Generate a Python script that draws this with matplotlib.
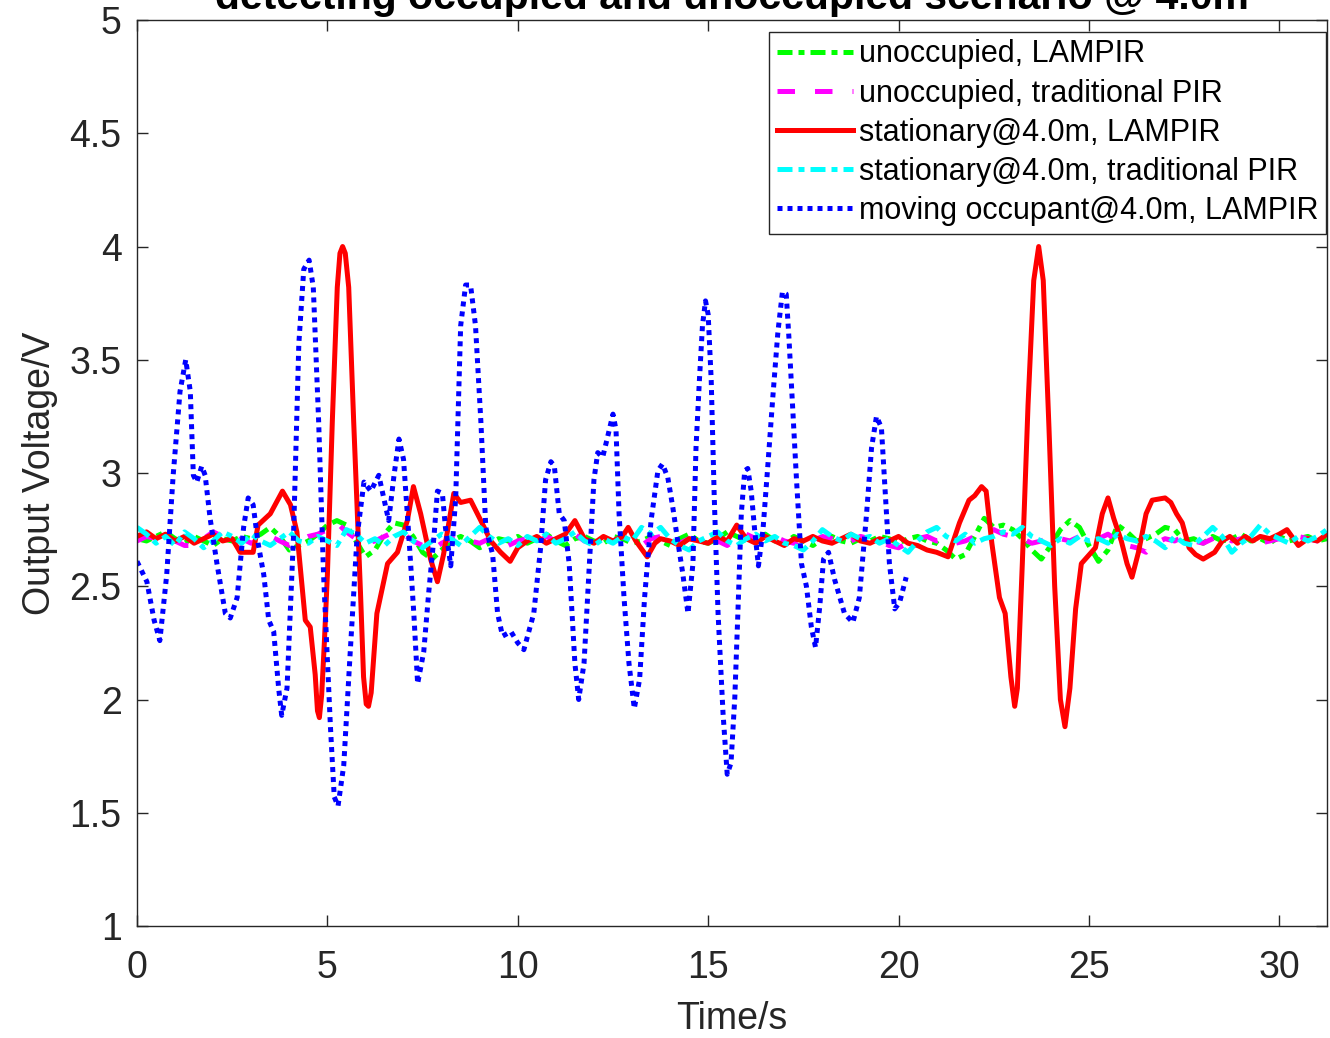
import numpy as np
import matplotlib
matplotlib.use("Agg")
import matplotlib.pyplot as plt

plt.rcParams['font.family'] = ['Liberation Sans', 'DejaVu Sans']

# ======================
# data
# ======================
DT = 0.25  # sample step for the flat (noise) traces, seconds

# unoccupied, LAMPIR  (4 samples per second, one row per second)
green_v = [
    2.71, 2.70, 2.72, 2.74,   # 0
    2.71, 2.69, 2.72, 2.70,   # 1
    2.68, 2.71, 2.70, 2.72,   # 2
    2.71, 2.73, 2.76, 2.72,   # 3
    2.66, 2.68, 2.70, 2.73,   # 4
    2.77, 2.79, 2.77, 2.70,   # 5
    2.63, 2.66, 2.73, 2.78,   # 6
    2.77, 2.72, 2.65, 2.62,   # 7
    2.66, 2.70, 2.72, 2.70,   # 8
    2.67, 2.69, 2.71, 2.70,   # 9
    2.72, 2.69, 2.71, 2.73,   # 10
    2.70, 2.68, 2.71, 2.72,   # 11
    2.70, 2.69, 2.72, 2.71,   # 12
    2.69, 2.70, 2.72, 2.70,   # 13
    2.68, 2.71, 2.73, 2.70,   # 14
    2.69, 2.71, 2.74, 2.72,   # 15
    2.70, 2.71, 2.73, 2.70,   # 16
    2.69, 2.72, 2.70, 2.68,   # 17
    2.71, 2.72, 2.70, 2.69,   # 18
    2.71, 2.70, 2.72, 2.71,   # 19
    2.69, 2.71, 2.72, 2.70,   # 20
    2.69, 2.66, 2.62, 2.64,   # 21
    2.72, 2.80, 2.76, 2.77,   # 22
    2.75, 2.71, 2.66, 2.62,   # 23
    2.68, 2.75, 2.79, 2.76,   # 24
    2.68, 2.61, 2.66, 2.77,   # 25
    2.74, 2.70, 2.71, 2.73,   # 26
    2.76, 2.75, 2.70, 2.71,   # 27
    2.69, 2.72, 2.70, 2.71,   # 28
    2.73, 2.70, 2.71, 2.69,   # 29
    2.72, 2.70, 2.71, 2.72,   # 30
    2.70, 2.71,               # 31
]

# unoccupied, traditional PIR
magenta_v = [
    2.70, 2.72, 2.71, 2.69,   # 0
    2.70, 2.68, 2.68, 2.71,   # 1
    2.74, 2.72, 2.70, 2.71,   # 2
    2.69, 2.71, 2.72, 2.70,   # 3
    2.68, 2.70, 2.72, 2.73,   # 4
    2.75, 2.78, 2.74, 2.71,   # 5
    2.69, 2.70, 2.72, 2.74,   # 6
    2.73, 2.70, 2.68, 2.66,   # 7
    2.69, 2.71, 2.72, 2.70,   # 8
    2.69, 2.71, 2.70, 2.68,   # 9
    2.70, 2.71, 2.69, 2.72,   # 10
    2.70, 2.71, 2.73, 2.70,   # 11
    2.69, 2.71, 2.70, 2.72,   # 12
    2.70, 2.68, 2.71, 2.72,   # 13
    2.70, 2.69, 2.71, 2.70,   # 14
    2.72, 2.70, 2.68, 2.71,   # 15
    2.73, 2.71, 2.70, 2.72,   # 16
    2.70, 2.69, 2.71, 2.70,   # 17
    2.72, 2.71, 2.69, 2.70,   # 18
    2.72, 2.71, 2.70, 2.68,   # 19
    2.67, 2.69, 2.71, 2.72,   # 20
    2.70, 2.71, 2.69, 2.70,   # 21
    2.72, 2.74, 2.75, 2.73,   # 22
    2.72, 2.71, 2.69, 2.70,   # 23
    2.72, 2.71, 2.70, 2.72,   # 24
    2.70, 2.71, 2.73, 2.70,   # 25
    2.68, 2.67, 2.65, 2.69,   # 26
    2.71, 2.70, 2.72, 2.70,   # 27
    2.69, 2.71, 2.73, 2.70,   # 28
    2.71, 2.72, 2.69, 2.70,   # 29
    2.71, 2.70, 2.72, 2.71,   # 30
    2.70, 2.71,               # 31
]

# stationary@4.0m, traditional PIR
cyan_v = [
    2.76, 2.73, 2.69, 2.72,   # 0
    2.68, 2.74, 2.71, 2.67,   # 1
    2.70, 2.74, 2.72, 2.69,   # 2
    2.73, 2.70, 2.68, 2.71,   # 3
    2.74, 2.70, 2.69, 2.72,   # 4
    2.70, 2.68, 2.75, 2.73,   # 5
    2.69, 2.71, 2.68, 2.72,   # 6
    2.74, 2.70, 2.67, 2.70,   # 7
    2.73, 2.71, 2.68, 2.72,   # 8
    2.76, 2.72, 2.69, 2.71,   # 9
    2.68, 2.72, 2.70, 2.73,   # 10
    2.69, 2.71, 2.74, 2.70,   # 11
    2.68, 2.71, 2.69, 2.72,   # 12
    2.70, 2.76, 2.73, 2.76,   # 13
    2.71, 2.68, 2.66, 2.70,   # 14
    2.72, 2.74, 2.70, 2.68,   # 15
    2.71, 2.73, 2.70, 2.72,   # 16
    2.69, 2.68, 2.66, 2.70,   # 17
    2.75, 2.72, 2.70, 2.73,   # 18
    2.71, 2.72, 2.69, 2.71,   # 19
    2.68, 2.65, 2.70, 2.74,   # 20
    2.76, 2.72, 2.70, 2.73,   # 21
    2.69, 2.71, 2.72, 2.74,   # 22
    2.73, 2.76, 2.72, 2.70,   # 23
    2.68, 2.71, 2.69, 2.72,   # 24
    2.70, 2.71, 2.69, 2.73,   # 25
    2.71, 2.70, 2.72, 2.70,   # 26
    2.67, 2.72, 2.69, 2.68,   # 27
    2.72, 2.76, 2.72, 2.65,   # 28
    2.69, 2.72, 2.77, 2.73,   # 29
    2.71, 2.69, 2.72, 2.70,   # 30
    2.72, 2.75,               # 31
]

# stationary@4.0m, LAMPIR
red_t = [0.0, 0.25, 0.5, 0.75, 1.0, 1.25, 1.5, 1.75, 2.0, 2.25, 2.5, 2.71,
         3.05, 3.18, 3.5, 3.82, 4.03, 4.2, 4.42, 4.55, 4.68, 4.74, 4.79, 4.85,
         4.92, 5.0, 5.13, 5.26, 5.33, 5.4, 5.47, 5.56, 5.69, 5.87, 5.95, 6.02,
         6.08, 6.15, 6.3, 6.58, 6.84, 7.1, 7.26, 7.45, 7.71, 7.89, 8.05, 8.32,
         8.5, 8.76, 9.03, 9.29, 9.55, 9.8, 10.0,
         10.25, 10.5, 10.75, 11.0, 11.25, 11.5, 11.75, 12.0, 12.25, 12.5, 12.75,
         12.9, 13.1, 13.4, 13.6, 13.75, 14.0, 14.25, 14.5, 14.75, 15.0, 15.25,
         15.5, 15.75, 16.0, 16.25, 16.5, 16.75, 17.0, 17.25, 17.5, 17.75, 18.0,
         18.25, 18.5, 18.75, 19.0, 19.25, 19.5, 19.75, 20.0, 20.25, 20.5, 20.75,
         21.0, 21.3, 21.6, 21.85, 22.0, 22.18, 22.3, 22.45, 22.65, 22.8, 22.95,
         23.05, 23.12, 23.25, 23.4, 23.55, 23.68, 23.8, 23.95, 24.1, 24.25,
         24.37, 24.5, 24.65, 24.8, 25.17, 25.35, 25.5, 25.65, 25.85, 26.0,
         26.13, 26.3, 26.5, 26.66, 27.0, 27.15, 27.3, 27.45, 27.63, 27.8, 28.0,
         28.3, 28.5, 28.7, 28.9, 29.1, 29.3, 29.5, 29.75, 30.0, 30.2, 30.5,
         30.75, 31.0, 31.25]
red_v = [2.72, 2.74, 2.71, 2.73, 2.70, 2.72, 2.69, 2.71, 2.73, 2.70, 2.71, 2.65,
         2.65, 2.77, 2.82, 2.92, 2.86, 2.74, 2.35, 2.32, 2.11, 1.95, 1.92, 2.02,
         2.25, 2.55, 3.23, 3.82, 3.97, 4.00, 3.97, 3.82, 3.23, 2.47, 2.10, 1.98,
         1.97, 2.03, 2.38, 2.60, 2.65, 2.79, 2.94, 2.82, 2.62, 2.52, 2.64, 2.91,
         2.87, 2.88, 2.79, 2.70, 2.65, 2.61, 2.67,
         2.70, 2.72, 2.69, 2.71, 2.73, 2.79, 2.71, 2.69, 2.72, 2.70, 2.72,
         2.76, 2.70, 2.63, 2.69, 2.71, 2.70, 2.68, 2.71, 2.70, 2.69, 2.72,
         2.70, 2.77, 2.71, 2.69, 2.72, 2.70, 2.68, 2.71, 2.70, 2.72, 2.70,
         2.69, 2.71, 2.73, 2.70, 2.69, 2.71, 2.70, 2.72, 2.69, 2.68, 2.66,
         2.65, 2.63, 2.78, 2.88, 2.90, 2.94, 2.92, 2.69, 2.45, 2.38, 2.10,
         1.97, 2.05, 2.60, 3.30, 3.85, 4.00, 3.85, 3.20, 2.50, 2.00,
         1.88, 2.05, 2.40, 2.60, 2.67, 2.82, 2.89, 2.80, 2.70, 2.60,
         2.54, 2.65, 2.82, 2.88, 2.89, 2.87, 2.82, 2.78, 2.67, 2.64, 2.62,
         2.65, 2.70, 2.72, 2.69, 2.72, 2.70, 2.72, 2.71, 2.73, 2.75, 2.68,
         2.71, 2.70, 2.73]

# moving occupant@4.0m, LAMPIR
blue_t = [0.0, 0.26, 0.45, 0.6, 0.78, 0.95, 1.13, 1.28, 1.4, 1.48, 1.57, 1.7,
          1.79, 1.92, 2.1, 2.32, 2.45, 2.63, 2.8, 2.92, 3.05, 3.18, 3.33, 3.46,
          3.59, 3.72, 3.8, 3.94, 4.11, 4.25, 4.38, 4.52, 4.63, 4.77, 4.9, 5.08,
          5.18, 5.28, 5.43, 5.6, 5.78, 5.96, 6.14, 6.35, 6.48, 6.61, 6.75, 6.88,
          7.0, 7.14, 7.27, 7.37, 7.53, 7.66, 7.8, 7.89, 8.02, 8.1, 8.24, 8.37,
          8.5, 8.63, 8.76, 8.89, 9.03, 9.16, 9.34, 9.47, 9.6, 9.82, 10.0, 10.16,
          10.42, 10.6, 10.73, 10.87, 10.96, 11.09, 11.22, 11.35, 11.5, 11.6,
          11.74, 11.88, 12.0, 12.1, 12.23, 12.36, 12.5, 12.58, 12.66, 12.79,
          12.92, 13.06, 13.2, 13.33, 13.5, 13.68, 13.8, 13.94, 14.07, 14.2,
          14.33, 14.47, 14.6, 14.68, 14.77, 14.85, 14.93, 15.0, 15.08, 15.16,
          15.26, 15.39, 15.5, 15.6, 15.7, 15.78, 15.87, 15.96, 16.04, 16.13,
          16.22, 16.32, 16.44, 16.57, 16.7, 16.83, 16.95, 17.05, 17.12, 17.18,
          17.32, 17.45, 17.58, 17.71, 17.82, 17.93, 18.03, 18.16, 18.32, 18.58,
          18.8, 18.97, 19.16, 19.29, 19.42, 19.55, 19.63, 19.76, 19.9, 20.03,
          20.2]
blue_v = [2.61, 2.52, 2.35, 2.26, 2.55, 2.99, 3.36, 3.50, 3.36, 2.99, 2.96, 3.03,
          2.99, 2.80, 2.60, 2.38, 2.36, 2.45, 2.76, 2.89, 2.86, 2.69, 2.55, 2.35,
          2.30, 2.05, 1.93, 2.05, 2.72, 3.57, 3.90, 3.94, 3.82, 3.23, 2.55, 1.88,
          1.57, 1.53, 1.71, 2.21, 2.72, 2.96, 2.92, 2.99, 2.89, 2.79, 2.99, 3.15,
          3.06, 2.72, 2.38, 2.07, 2.21, 2.47, 2.72, 2.92, 2.91, 2.76, 2.59, 2.89,
          3.65, 3.83, 3.83, 3.65, 3.23, 2.76, 2.64, 2.38, 2.28, 2.30, 2.25, 2.22,
          2.38, 2.67, 2.97, 3.05, 3.03, 2.82, 2.79, 2.60, 2.16, 2.00,
          2.16, 2.60, 2.97, 3.09, 3.07, 3.16, 3.26, 3.19, 2.82, 2.45,
          2.16, 1.96, 2.09, 2.45, 2.79, 3.01, 3.04, 2.98, 2.85, 2.70,
          2.56, 2.38, 2.60, 3.11, 3.41, 3.65, 3.76, 3.70, 3.41, 2.89,
          2.38, 1.94, 1.67, 1.72, 2.01, 2.38, 2.82, 3.01, 3.02, 2.92,
          2.75, 2.59, 2.75, 3.04, 3.34, 3.62, 3.80, 3.79, 3.60, 3.41,
          2.97, 2.60, 2.50, 2.32, 2.23, 2.41, 2.62, 2.65, 2.53, 2.38,
          2.34, 2.45, 2.82, 3.11, 3.25, 3.20, 2.97, 2.60, 2.40, 2.43,
          2.54]

labels = ["unoccupied, LAMPIR",
          "unoccupied, traditional PIR",
          "stationary@4.0m, LAMPIR",
          "stationary@4.0m, traditional PIR",
          "moving occupant@4.0m, LAMPIR"]

title = "detecting occupied and unoccupied scenario @ 4.0m"
x_ticks = [0, 5, 10, 15, 20, 25, 30]
y_ticks = [1, 1.5, 2, 2.5, 3, 3.5, 4, 4.5, 5]
y_tick_labels = ["1", "1.5", "2", "2.5", "3", "3.5", "4", "4.5", "5"]

# ======================
# plot
# ======================
AX_COL = "#262626"
LW = 3.6

fig = plt.figure(figsize=(13.3, 10.38), dpi=100)
ax = fig.add_axes([0.1030, 0.1079, 0.8947, 0.8728])

ax.plot(np.arange(len(green_v)) * DT, green_v, color="#00ff00", lw=LW,
        linestyle=(0, (3, 1.2, 1.2, 1.2)), label=labels[0])
ax.plot(np.arange(len(magenta_v)) * DT, magenta_v, color="#ff00ff", lw=LW,
        linestyle=(0, (3.5, 4)), label=labels[1])
ax.plot(red_t, red_v, color="#ff0000", lw=LW, linestyle="-", label=labels[2])
ax.plot(np.arange(len(cyan_v)) * DT, cyan_v, color="#00ffff", lw=LW,
        linestyle=(0, (3, 1.2, 1.2, 1.2)), label=labels[3])
ax.plot(blue_t, blue_v, color="#0000ff", lw=LW,
        linestyle=(0, (1, 1)), label=labels[4])

ax.set_xlim(0, 31.25)
ax.set_ylim(1, 5)
ax.set_xticks(x_ticks)
ax.set_yticks(y_ticks)
ax.set_yticklabels(y_tick_labels)

for s in ax.spines.values():
    s.set_color(AX_COL)
    s.set_linewidth(1.0)
ax.tick_params(direction="in", length=8, width=1.0, color=AX_COL,
               top=True, right=True, labelsize=27, labelcolor="#262626")
ax.tick_params(axis="x", pad=17)
ax.tick_params(axis="y", pad=11)

ax.set_xlabel("Time/s", fontsize=27, color="#262626", labelpad=11)
ax.set_ylabel("Output Voltage/V", fontsize=27, color="#262626", labelpad=8)
# title sits partly above the canvas, as in the source image
ax.set_title(title, fontsize=29.5, fontweight="bold", color="black", pad=8)

leg = ax.legend(loc="upper right", bbox_to_anchor=(0.9995, 0.987),
                borderaxespad=0, fontsize=22, handlelength=2.5,
                handletextpad=0.2, labelspacing=0.3, borderpad=0.25,
                fancybox=False, framealpha=1, edgecolor=AX_COL)
leg.get_frame().set_linewidth(1.0)

fig.savefig("out.png", dpi=100)
